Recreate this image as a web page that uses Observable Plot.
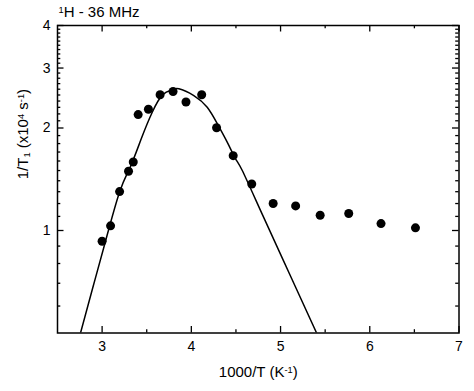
<!DOCTYPE html>
<html><head><meta charset="utf-8">
<script src="https://cdn.jsdelivr.net/npm/d3@7"></script>
<script src="https://cdn.jsdelivr.net/npm/@observablehq/plot@0.6"></script>
<style>body{margin:0;background:#fff}</style>
</head><body><div id="chart"></div>
<script>
// measured points: 1000/T (K^-1) and 1/T1 (x10^4 s^-1)
const invT = [3.00, 3.095, 3.196, 3.296, 3.349, 3.404, 3.519, 3.65, 3.795, 3.94, 4.116, 4.283, 4.469, 4.677, 4.917, 5.169, 5.444, 5.764, 6.126, 6.512];
const rate = [0.930, 1.032, 1.301, 1.493, 1.589, 2.19, 2.27, 2.505, 2.56, 2.384, 2.505, 2.004, 1.659, 1.37, 1.20, 1.181, 1.109, 1.122, 1.048, 1.018];
// fitted curve
const fitInvT = [2.758, 2.896, 3.035, 3.195, 3.318, 3.442, 3.562, 3.680, 3.786, 3.860, 4.028, 4.178, 4.29, 4.402, 4.496, 4.571, 4.798, 5.101, 5.404];
const fitRate = [0.500, 0.680, 0.924, 1.296, 1.542, 1.869, 2.225, 2.506, 2.59, 2.607, 2.49, 2.30, 2.06, 1.817, 1.624, 1.50, 1.111, 0.745, 0.500];
const xMajor = [3, 4, 5, 6, 7];
const xMinor = [3.5, 4.5, 5.5, 6.5];
const yMajor = [1, 2, 3, 4];
const yMinor = [0.6, 0.7, 0.8, 0.9, 1.1, 1.2, 1.3, 1.4, 1.5, 1.6, 1.7, 1.8, 1.9, 2.1, 2.2, 2.3, 2.4, 2.5, 2.6, 2.7, 2.8, 2.9, 3.1, 3.2, 3.3, 3.4, 3.5, 3.6, 3.7, 3.8, 3.9];
const title = "1H - 36 MHz";
const xLabel = "1000/T (K-1)";
const yLabel = "1/T1 (x104 s-1)";

const points = invT.map((x, i) => ({x, y: rate[i]}));
const fit = fitInvT.map((x, i) => ({x, y: fitRate[i]}));

const W = 474, H = 391, mL = 57, mR = 15.5, mT = 25, mB = 58.5;
const fw = W - mL - mR, fh = H - mT - mB;
const MAJ = 6.5, MIN = 3.3;
const font = "'Liberation Sans', Arial, Helvetica, sans-serif";

const chart = Plot.plot({
  width: W, height: H,
  marginLeft: mL, marginRight: mR, marginTop: mT, marginBottom: mB,
  style: {fontFamily: font, fontSize: "14px", color: "#000", background: "#fff"},
  x: {domain: [2.5, 7], axis: null},
  y: {type: "log", domain: [0.5, 4], axis: null},
  marks: [
    // ticks (inward) on all sides
    Plot.tickX(xMajor, {x: d => d, insetTop: fh - MAJ, stroke: "#000", strokeWidth: 1.3}),
    Plot.tickX(xMinor, {x: d => d, insetTop: fh - MIN, stroke: "#000", strokeWidth: 1.3}),
    Plot.tickX(xMajor, {x: d => d, insetBottom: fh - MAJ, stroke: "#000", strokeWidth: 1.3}),
    Plot.tickX(xMinor, {x: d => d, insetBottom: fh - MIN, stroke: "#000", strokeWidth: 1.3}),
    Plot.tickY(yMajor, {y: d => d, insetRight: fw - MAJ, stroke: "#000", strokeWidth: 1.3}),
    Plot.tickY(yMinor, {y: d => d, insetRight: fw - MIN, stroke: "#000", strokeWidth: 1.3}),
    Plot.tickY(yMajor, {y: d => d, insetLeft: fw - MAJ, stroke: "#000", strokeWidth: 1.3}),
    Plot.tickY(yMinor, {y: d => d, insetLeft: fw - MIN, stroke: "#000", strokeWidth: 1.3}),
    // tick labels
    Plot.text(xMajor, {x: d => d, text: d => String(d), frameAnchor: "bottom", lineAnchor: "middle", dy: 14, fontSize: 14, fill: "#000"}),
    Plot.text(yMajor, {y: d => d, text: d => String(d), frameAnchor: "left", lineAnchor: "middle", dx: -7, textAnchor: "end", fontSize: 14, fill: "#000"}),
    // axis labels and title
    Plot.text([xLabel], {text: d => d, frameAnchor: "bottom", lineAnchor: "middle", dy: 39, fontSize: 15, fill: "#000"}),
    Plot.text([yLabel], {text: d => d, frameAnchor: "left", lineAnchor: "middle", dx: -34, rotate: -90, fontSize: 15, fill: "#000"}),
    Plot.text([title], {text: d => d, frameAnchor: "top-left", lineAnchor: "middle", textAnchor: "start", dx: 1, dy: -13, fontSize: 15, fill: "#000"}),
    // curve and data
    Plot.line(fit, {x: "x", y: "y", curve: "natural", stroke: "#000", strokeWidth: 1.5, clip: true}),
    Plot.dot(points, {x: "x", y: "y", r: 4.5, fill: "#000"}),
    Plot.frame({stroke: "#000", strokeWidth: 1.5})
  ]
});

// rich text (super/subscripts) as real tspans
const NS = "http://www.w3.org/2000/svg";
function rich(plain, parts) {
  chart.querySelectorAll("text").forEach(t => {
    if (t.textContent !== plain) return;
    while (t.firstChild) t.removeChild(t.firstChild);
    for (const [s, kind] of parts) {
      const ts = document.createElementNS(NS, "tspan");
      ts.textContent = s;
      if (kind === "sup") { ts.setAttribute("baseline-shift", "45%"); ts.setAttribute("font-size", "62%"); }
      if (kind === "sub") { ts.setAttribute("baseline-shift", "-20%"); ts.setAttribute("font-size", "62%"); }
      t.appendChild(ts);
    }
  });
}
rich(title, [["1", "sup"], ["H - 36 MHz", ""]]);
rich(xLabel, [["1000/T (K", ""], ["-1", "sup"], [")", ""]]);
rich(yLabel, [["1/T", ""], ["1", "sub"], [" (x10", ""], ["4", "sup"], [" s", ""], ["-1", "sup"], [")", ""]]);

document.getElementById("chart").appendChild(chart);
</script>
</body></html>
